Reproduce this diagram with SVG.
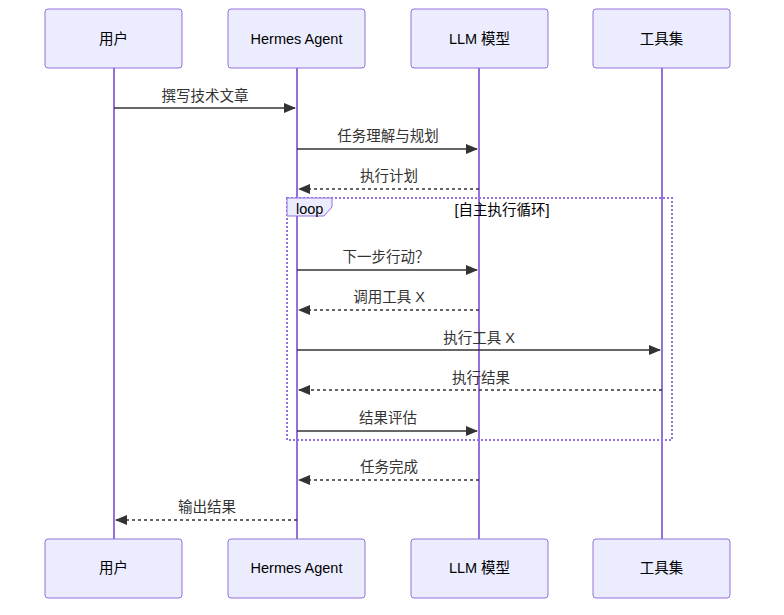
<svg xmlns="http://www.w3.org/2000/svg" width="784" height="615" viewBox="0 0 784 615">
<defs>
<marker id="arrow" viewBox="0 0 12 10" refX="11" refY="5" markerWidth="12" markerHeight="10" markerUnits="userSpaceOnUse" orient="auto">
<path d="M0,0 L12,5 L0,10 z" fill="#333"/>
</marker>
<style>
.actor{fill:#ECECFF;stroke:#9370DB;stroke-width:1;}
.atext{font-family:"Liberation Sans","Noto Sans CJK SC",sans-serif;font-size:14.5px;fill:#000;text-anchor:middle;dominant-baseline:central;}
.life{stroke:#9370DB;stroke-width:2;fill:none;}
.msg{stroke:#333;stroke-width:1.5;fill:none;marker-end:url(#arrow);}
.dash{stroke-dasharray:3,3;}
.mtext{font-family:"Liberation Sans","Noto Sans CJK SC",sans-serif;font-size:14.5px;fill:#333;text-anchor:middle;}
.loop{fill:none;stroke:#9370DB;stroke-width:2;stroke-dasharray:2,2;}
.ltext{font-family:"Liberation Sans","Noto Sans CJK SC",sans-serif;font-size:14.5px;fill:#000;}
</style>
</defs>
<rect width="784" height="615" fill="#fff"/>
<g id="lifelines">
<line class="life" x1="114" y1="68" x2="114" y2="539"/>
<line class="life" x1="297" y1="68" x2="297" y2="539"/>
<line class="life" x1="479" y1="68" x2="479" y2="539"/>
<line class="life" x1="662" y1="68" x2="662" y2="539"/>
</g>
<g id="loop">
<rect class="loop" x="287" y="198" width="385" height="242"/>
<polygon points="287,198 332,198 332,207 324,216 287,216" fill="#ECECFF" stroke="#9370DB" stroke-width="1"/>
<text class="ltext" x="296" y="214">loop</text>
<text class="ltext" x="502" y="215" text-anchor="middle">[自主执行循环]</text>
</g>
<g id="user-top"><rect class="actor" x="45" y="9" width="137" height="59" rx="3"/><text class="atext" x="113.5" y="39">用户</text></g>
<g id="agent-top"><rect class="actor" x="228" y="9" width="137" height="59" rx="3"/><text class="atext" x="296.5" y="39">Hermes Agent</text></g>
<g id="llm-top"><rect class="actor" x="411" y="9" width="137" height="59" rx="3"/><text class="atext" x="479.5" y="39">LLM 模型</text></g>
<g id="tools-top"><rect class="actor" x="593" y="9" width="137" height="59" rx="3"/><text class="atext" x="661.5" y="39">工具集</text></g>
<g id="user-bottom"><rect class="actor" x="45" y="539" width="137" height="59" rx="3"/><text class="atext" x="113.5" y="568">用户</text></g>
<g id="agent-bottom"><rect class="actor" x="228" y="539" width="137" height="59" rx="3"/><text class="atext" x="296.5" y="568">Hermes Agent</text></g>
<g id="llm-bottom"><rect class="actor" x="411" y="539" width="137" height="59" rx="3"/><text class="atext" x="479.5" y="568">LLM 模型</text></g>
<g id="tools-bottom"><rect class="actor" x="593" y="539" width="137" height="59" rx="3"/><text class="atext" x="661.5" y="568">工具集</text></g>
<g id="connectors">
<line class="msg" x1="114" y1="108" x2="295" y2="108"/>
<text class="mtext" x="205" y="101">撰写技术文章</text>
<line class="msg" x1="297" y1="149" x2="477" y2="149"/>
<text class="mtext" x="388" y="141">任务理解与规划</text>
<line class="msg dash" x1="479" y1="189" x2="299" y2="189"/>
<text class="mtext" x="389" y="181">执行计划</text>
<line class="msg" x1="297" y1="270" x2="477" y2="270"/>
<text class="mtext" x="386" y="262">下一步行动？</text>
<line class="msg dash" x1="479" y1="310" x2="299" y2="310"/>
<text class="mtext" x="389" y="302">调用工具 X</text>
<line class="msg" x1="297" y1="350" x2="660" y2="350"/>
<text class="mtext" x="479" y="343">执行工具 X</text>
<line class="msg dash" x1="662" y1="390" x2="299" y2="390"/>
<text class="mtext" x="481" y="383">执行结果</text>
<line class="msg" x1="297" y1="431" x2="477" y2="431"/>
<text class="mtext" x="388" y="423">结果评估</text>
<line class="msg dash" x1="479" y1="480" x2="299" y2="480"/>
<text class="mtext" x="389" y="472">任务完成</text>
<line class="msg dash" x1="297" y1="520" x2="116" y2="520"/>
<text class="mtext" x="207" y="512">输出结果</text>
</g>
</svg>
